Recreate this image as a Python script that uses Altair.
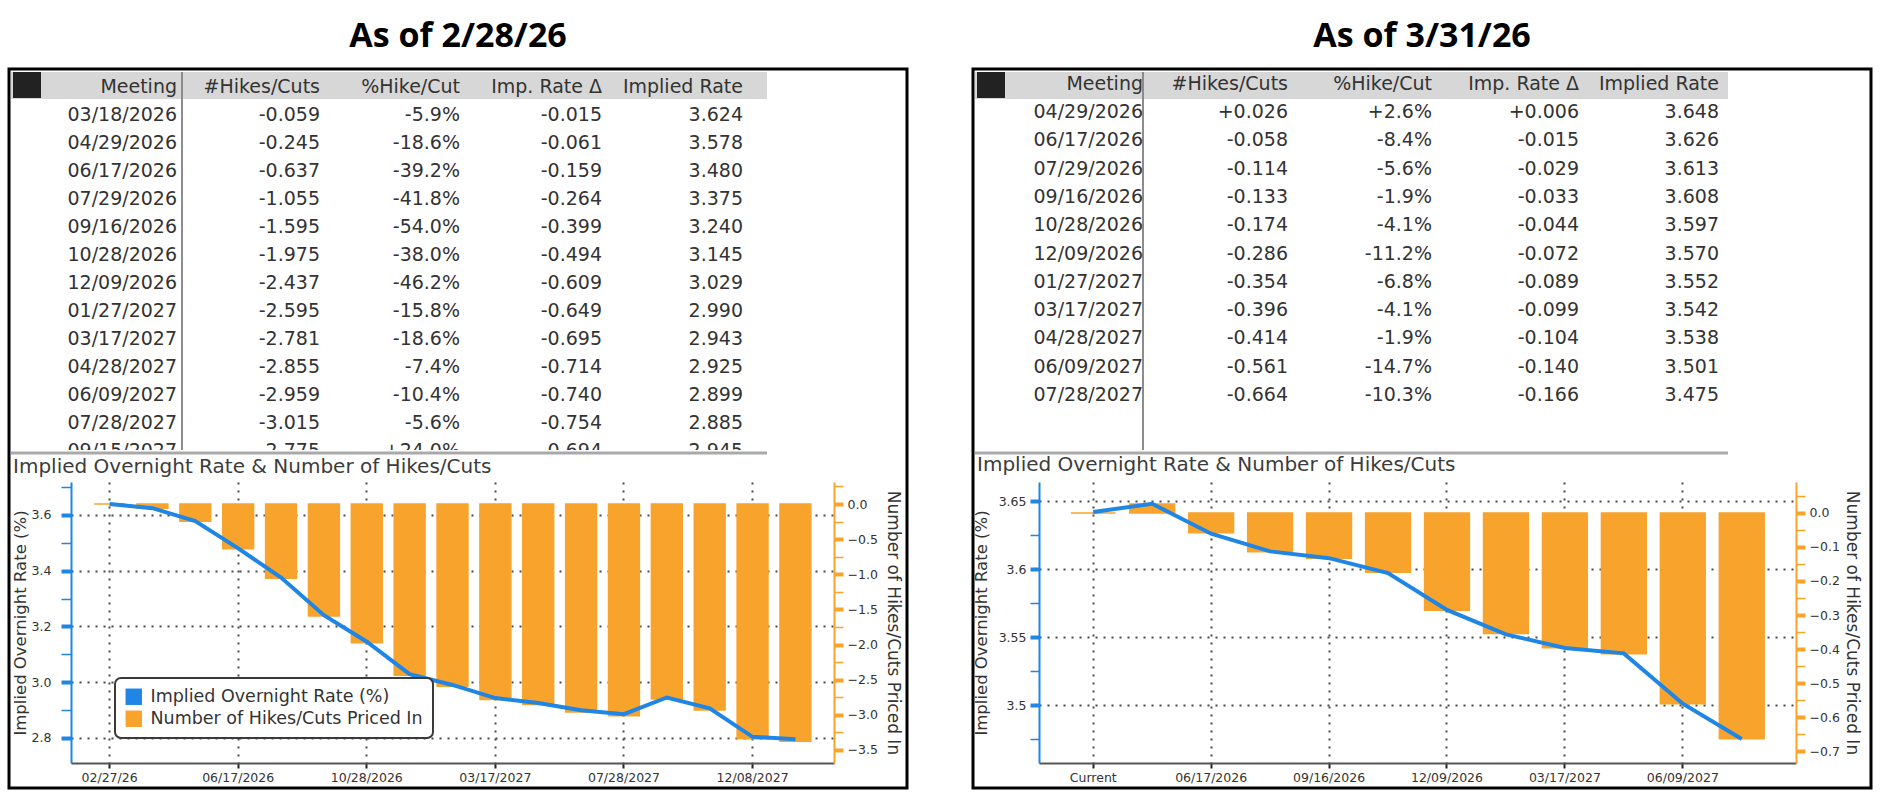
import altair as alt
import pandas as pd

BLUE = "#1f86e6"
ORANGE = "#f8a32c"
INK = "#333333"
GRID = "#4a4a4a"
FONT = "DejaVu Sans"

RATE_NAME = "Implied Overnight Rate (%)"
HIKE_NAME = "Number of Hikes/Cuts Priced In"
HEADERS = ["Meeting", "#Hikes/Cuts", "%Hike/Cut", "Imp. Rate Δ", "Implied Rate"]
CHART_TITLE = "Implied Overnight Rate & Number of Hikes/Cuts"

# ---- As of 2/28/26 (first entry is the current rate) ----
feb_meetings = ["02/27/26", "03/18/2026", "04/29/2026", "06/17/2026", "07/29/2026",
                "09/16/2026", "10/28/2026", "12/09/2026", "01/27/2027", "03/17/2027",
                "04/28/2027", "06/09/2027", "07/28/2027", "09/15/2027", "10/27/2027",
                "12/08/2027", "01/26/2028"]
feb_hikes = [0.0, -0.059, -0.245, -0.637, -1.055, -1.595, -1.975, -2.437, -2.595,
             -2.781, -2.855, -2.959, -3.015, -2.775, -2.93, -3.34, -3.375]
feb_rate = [3.639, 3.624, 3.578, 3.480, 3.375, 3.240, 3.145, 3.029, 2.990,
            2.943, 2.925, 2.899, 2.885, 2.945, 2.906, 2.804, 2.795]
# table-only columns, one per listed meeting (03/18/2026 .. 09/15/2027)
feb_pct = [-5.9, -18.6, -39.2, -41.8, -54.0, -38.0, -46.2, -15.8, -18.6, -7.4, -10.4, -5.6, 24.0]
feb_delta = [-0.015, -0.061, -0.159, -0.264, -0.399, -0.494, -0.609, -0.649, -0.695,
             -0.714, -0.740, -0.754, -0.694]

# ---- As of 3/31/26 ----
mar_meetings = ["Current", "04/29/2026", "06/17/2026", "07/29/2026", "09/16/2026",
                "10/28/2026", "12/09/2026", "01/27/2027", "03/17/2027", "04/28/2027",
                "06/09/2027", "07/28/2027"]
mar_hikes = [0.0, 0.026, -0.058, -0.114, -0.133, -0.174, -0.286, -0.354, -0.396,
             -0.414, -0.561, -0.664]
mar_rate = [3.642, 3.648, 3.626, 3.613, 3.608, 3.597, 3.570, 3.552, 3.542, 3.538,
            3.501, 3.475]
mar_pct = [2.6, -8.4, -5.6, -1.9, -4.1, -11.2, -6.8, -4.1, -1.9, -14.7, -10.3]
mar_delta = [0.006, -0.015, -0.029, -0.033, -0.044, -0.072, -0.089, -0.099, -0.104,
             -0.140, -0.166]


def table_frame(meetings, hikes, pct, delta, rate):
    recs = [{"row": 0, "col": c, "text": h} for c, h in enumerate(HEADERS)]
    for i in range(len(pct)):
        k = i + 1
        cells = [meetings[k], f"{hikes[k]:+.3f}", f"{pct[i]:+.1f}%",
                 f"{delta[i]:+.3f}", f"{rate[k]:.3f}"]
        for c, v in enumerate(cells):
            recs.append({"row": k, "col": c, "text": v})
    return pd.DataFrame(recs)


def ticks(lo, step, n):
    return [round(lo + step * i, 4) for i in range(n)]


def panel(title, meetings, hikes, rate, pct, delta, L):
    W, H = L["W"], L["H"]
    one = pd.DataFrame({"k": [0]})
    bx0, bx1, by0, by1 = L["box"]

    box = alt.Chart(one).mark_rect(fill="white", fillOpacity=0, stroke="black",
                                   strokeWidth=3).encode(
        x=alt.value(bx0), x2=alt.value(bx1), y=alt.value(by0), y2=alt.value(by1))
    band = alt.Chart(one).mark_rect(color="#d7d7d7").encode(
        x=alt.value(bx0 + 2), x2=alt.value(L["band_end"]),
        y=alt.value(L["head_top"]), y2=alt.value(L["head_top"] + 27))
    corner = alt.Chart(one).mark_rect(color="#222222").encode(
        x=alt.value(bx0 + 4), x2=alt.value(bx0 + 32),
        y=alt.value(L["head_top"]), y2=alt.value(L["head_top"] + 26))
    sep = alt.Chart(one).mark_rule(color="#8c8c8c", strokeWidth=2).encode(
        x=alt.value(L["sep_x"]), y=alt.value(L["head_top"]), y2=alt.value(L["table_end"]))

    tdf = table_frame(meetings, hikes, pct, delta, rate)
    table = alt.Chart(tdf).mark_text(align="right", baseline="middle", font=FONT,
                                     fontSize=19, color=INK).encode(
        x=alt.X("col:Q", axis=None,
                scale=alt.Scale(domain=[0, 1, 2, 3, 4], range=L["cols"], nice=False)),
        y=alt.Y("row:Q", axis=None,
                scale=alt.Scale(domain=L["row_dom"], range=L["row_rng"], nice=False)),
        text="text:N")
    # the list runs on below the table frame: hide the lower part of the last row
    cover = alt.Chart(one).mark_rect(color="white").encode(
        x=alt.value(bx0 + 2), x2=alt.value(bx1 - 3),
        y=alt.value(L["table_end"] - 3), y2=alt.value(L["table_end"] + 6))
    underline = alt.Chart(one).mark_rule(color="#a9a9a9", strokeWidth=3).encode(
        x=alt.value(bx0 + 2), x2=alt.value(L["band_end"]), y=alt.value(L["table_end"]))
    chart_title = alt.Chart(one).mark_text(
        text=CHART_TITLE, align="left", baseline="middle", font=FONT, fontSize=20,
        color="#3c3c3c").encode(x=alt.value(bx0 + 4), y=alt.value(L["ctitle_y"]))
    panel_title = alt.Chart(one).mark_text(
        text=title, align="center", baseline="middle", font="Open Sans",
        fontWeight="bold", fontSize=34, color="black").encode(
        x=alt.value((bx0 + bx1) / 2), y=alt.value(L["ptitle_y"]))

    df = pd.DataFrame({"meeting": meetings, "hikes": hikes, "rate": rate,
                       "series": HIKE_NAME})

    x_enc = alt.X("meeting:N", sort=None,
                  scale=alt.Scale(paddingInner=L["pin"], paddingOuter=L["pout"]),
                  axis=alt.Axis(values=meetings[::L["every"]], labelAngle=0,
                                domainColor="#555555", domainWidth=2,
                                tickColor="#222222", tickSize=5, tickWidth=2,
                                grid=True, gridColor=GRID, gridDash=[2, 6], gridWidth=2,
                                labelFont=FONT, labelFontSize=12.5, labelColor=INK,
                                labelPadding=3, title=None))

    rmaj = L["rate_major"]
    rate_axis = alt.Axis(
        orient="left", values=L["rate_ticks"], format=L["rate_fmt"],
        labelExpr=f"{rmaj} ? datum.label : ''",
        domainColor=BLUE, domainWidth=2, tickColor=BLUE, tickSize=L["rtick"],
        tickWidth={"condition": {"test": rmaj, "value": 4}, "value": 1.5},
        grid=True, gridColor=GRID, gridDash=[2, 6], gridWidth=2,
        gridOpacity={"condition": {"test": rmaj, "value": 1}, "value": 0},
        labelFont=FONT, labelFontSize=12.5, labelColor=INK, labelPadding=L["rpad"],
        title=RATE_NAME, titleFont=FONT, titleFontSize=16.5, titleFontWeight="normal",
        titleColor=INK, titleAngle=270, titleX=L["rtitle_x"], titleY=H / 2,
        titleAlign="center", titleBaseline="middle")

    hmaj = L["hike_major"]
    hike_axis = alt.Axis(
        orient="right", values=L["hike_ticks"], format=".1f",
        labelExpr=f"{hmaj} ? datum.label : ''",
        domainColor=ORANGE, domainWidth=2, tickColor=ORANGE, tickSize=9,
        tickWidth={"condition": {"test": hmaj, "value": 4}, "value": 1.5},
        grid=False, labelFont=FONT, labelFontSize=12.5, labelColor=INK, labelPadding=4,
        title=HIKE_NAME, titleFont=FONT, titleFontSize=17, titleFontWeight="normal",
        titleColor=INK, titleAngle=90, titleX=L["htitle_x"], titleY=H / 2,
        titleAlign="center", titleBaseline="middle")

    bars = alt.Chart(df).mark_bar(stroke=ORANGE, strokeWidth=1.5).encode(
        x=x_enc,
        y=alt.Y("hikes:Q", axis=hike_axis,
                scale=alt.Scale(domain=L["hike_dom"], nice=False, zero=False)),
        y2=alt.datum(0),
        color=alt.Color("series:N",
                        scale=alt.Scale(domain=[RATE_NAME, HIKE_NAME], range=[BLUE, ORANGE]),
                        legend=alt.Legend(title=None, orient="none", legendX=L["leg"][0],
                                          legendY=L["leg"][1], direction="vertical",
                                          fillColor="white", strokeColor="#3a3a3a",
                                          cornerRadius=6, padding=10,
                                          symbolType="square", symbolSize=270,
                                          symbolStrokeWidth=0, symbolOpacity=1,
                                          labelFont=FONT, labelFontSize=17.5,
                                          labelColor=INK, labelOffset=8, rowPadding=3,
                                          labelLimit=400)))
    line = alt.Chart(df).mark_line(color=BLUE, strokeWidth=4).encode(
        x=x_enc,
        y=alt.Y("rate:Q", axis=rate_axis,
                scale=alt.Scale(domain=L["rate_dom"], nice=False, zero=False)))
    core = alt.layer(bars, line).resolve_scale(y="independent")

    return alt.layer(box, band, corner, sep, table, cover, underline, chart_title,
                     panel_title, core).resolve_scale(
        x="independent", y="independent").properties(width=W, height=H)


feb_layout = dict(
    W=763, H=281, box=[-62, 836, -413, 306], band_end=696, head_top=-410,
    sep_x=111, table_end=-29, cols=[106, 249, 389, 531, 672],
    row_dom=[1, 12], row_rng=[-367, -59], ctitle_y=-15, ptitle_y=-445,
    pin=0.28, pout=0.54, every=3,
    rate_dom=[2.71, 3.718], rate_ticks=ticks(2.8, 0.1, 10), rate_fmt=".1f",
    rate_major="round(datum.value*10) % 2 == 0", rtick=10, rpad=10, rtitle_x=-51,
    hike_dom=[-3.686, 0.314], hike_ticks=ticks(-3.5, 0.25, 16),
    hike_major="abs(round(datum.value*4)) % 2 == 0", htitle_x=58, leg=[44, 196])

mar_layout = dict(
    W=757, H=281, box=[-66, 832, -413, 306], band_end=689, head_top=-410,
    sep_x=104, table_end=-29, cols=[104, 249, 393, 540, 680],
    row_dom=[1, 11], row_rng=[-370, -87], ctitle_y=-17, ptitle_y=-445,
    pin=0.24, pout=0.54, every=2,
    rate_dom=[3.4574, 3.664], rate_ticks=ticks(3.475, 0.025, 8), rate_fmt="~g",
    rate_major="round(datum.value*40) % 2 == 0", rtick=9, rpad=4, rtitle_x=-58,
    hike_dom=[-0.735, 0.091], hike_ticks=ticks(-0.7, 0.05, 16),
    hike_major="abs(round(datum.value*20)) % 2 == 0", htitle_x=55, leg=[43, 195])

left = panel("As of 2/28/26", feb_meetings, feb_hikes, feb_rate, feb_pct, feb_delta, feb_layout)
right = panel("As of 3/31/26", mar_meetings, mar_hikes, mar_rate, mar_pct, mar_delta, mar_layout)

chart = alt.hconcat(left, right, spacing=62).properties(
    padding={"left": 7, "top": 20, "right": 5, "bottom": 5}
).configure_view(stroke=None).configure_legend(strokeWidth=2)

chart.save("out.html", embed_options={"renderer": "svg", "actions": False})
